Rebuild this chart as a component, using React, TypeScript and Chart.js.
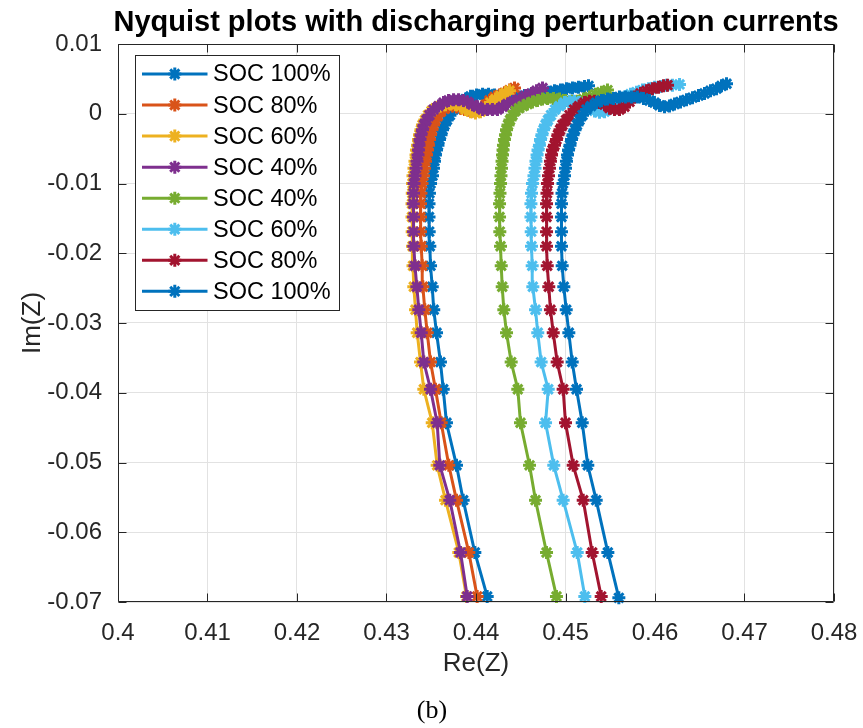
import React, { useEffect, useRef } from "react";
import { Chart, registerables } from "chart.js";

Chart.register(...registerables);

// ---------------- data ----------------
const seriesLabels = ["SOC 100%", "SOC 80%", "SOC 60%", "SOC 40%", "SOC 40%", "SOC 60%", "SOC 80%", "SOC 100%"];
const seriesColors = ["#0072BD", "#D95319", "#EDB120", "#7E2F8E", "#77AC30", "#4DBEEE", "#A2142F", "#0072BD"];

const xTickValues = [0.4, 0.41, 0.42, 0.43, 0.44, 0.45, 0.46, 0.47, 0.48];
const yTickValues = [0.01, 0, -0.01, -0.02, -0.03, -0.04, -0.05, -0.06, -0.07];

const chartTitle = "Nyquist plots with discharging perturbation currents";
const xAxisTitle = "Re(Z)";
const yAxisTitle = "Im(Z)";
const captionText = "(b)";

// SOC 100% (1st)
const soc100aRe = [0.44125, 0.43987, 0.43857, 0.43782, 0.43670, 0.43634, 0.43603, 0.43559, 0.43528, 0.43511, 0.43492, 0.43484, 0.43477,
  0.43475, 0.43475, 0.43480, 0.43492,
  0.43514, 0.43525, 0.43536, 0.43547, 0.43559, 0.43575, 0.43592, 0.43609, 0.43626, 0.43648, 0.43676, 0.43709,
  0.43749, 0.43793, 0.43838, 0.43883, 0.43939, 0.44006, 0.44073, 0.44140, 0.44207, 0.44274, 0.44341, 0.44408, 0.44475,
  0.44542, 0.44609, 0.44676, 0.44743, 0.44810, 0.44877, 0.44944, 0.45011, 0.45078, 0.45145, 0.45212, 0.45257];
const soc100aIm = [-0.0692, -0.0629, -0.0554, -0.0504, -0.0443, -0.0395, -0.0356, -0.0314, -0.0281, -0.0248, -0.0218, -0.0190, -0.0169,
  -0.0148, -0.0129, -0.0114, -0.0100,
  -0.0089, -0.0078, -0.0068, -0.0059, -0.0052, -0.0045, -0.0037, -0.0030, -0.0023, -0.0016, -0.0009, -0.0002,
  0.0006, 0.0011, 0.0017, 0.0021, 0.0025, 0.0027, 0.0028, 0.0028, 0.0027, 0.0026, 0.0024, 0.0024, 0.0024,
  0.0026, 0.0027, 0.0029, 0.0030, 0.0031, 0.0033, 0.0034, 0.0036, 0.0037, 0.0038, 0.0039, 0.0040];

// SOC 80% (1st)
const soc80aRe = [0.44013, 0.43920, 0.43782, 0.43696, 0.43611, 0.43547, 0.43492, 0.43455, 0.43428, 0.43406, 0.43399, 0.43388, 0.43380,
  0.43380, 0.43380, 0.43385, 0.43397,
  0.43413, 0.43425, 0.43436, 0.43447, 0.43458, 0.43469, 0.43480, 0.43492, 0.43508, 0.43525, 0.43547,
  0.43575, 0.43609, 0.43648, 0.43693, 0.43737, 0.43782, 0.43827, 0.43872, 0.43916, 0.43972, 0.44017, 0.44061,
  0.44106, 0.44151, 0.44207, 0.44263, 0.44318, 0.44374, 0.44430];
const soc80aIm = [-0.0692, -0.0629, -0.0554, -0.0504, -0.0443, -0.0395, -0.0356, -0.0314, -0.0281, -0.0248, -0.0218, -0.0190, -0.0169,
  -0.0148, -0.0129, -0.0114, -0.0100,
  -0.0089, -0.0078, -0.0068, -0.0059, -0.0052, -0.0045, -0.0037, -0.0030, -0.0023, -0.0016, -0.0009,
  -0.0003, 0.0003, 0.0007, 0.0010, 0.0011, 0.0010, 0.0008, 0.0006, 0.0005, 0.0004, 0.0005, 0.0008,
  0.0013, 0.0019, 0.0024, 0.0027, 0.0030, 0.0034, 0.0037];

// SOC 60% (1st)
const soc60aRe = [0.43894, 0.43808, 0.43659, 0.43566, 0.43511, 0.43417, 0.43380, 0.43343, 0.43324, 0.43305, 0.43296, 0.43291, 0.43287,
  0.43285, 0.43285, 0.43288, 0.43291,
  0.43296, 0.43307, 0.43318, 0.43330, 0.43335, 0.43346, 0.43358, 0.43369, 0.43385, 0.43402, 0.43430, 0.43464,
  0.43503, 0.43547, 0.43603, 0.43659, 0.43715, 0.43771, 0.43827, 0.43883, 0.43939, 0.43994, 0.44050, 0.44106,
  0.44162, 0.44218, 0.44274, 0.44330, 0.44374];
const soc60aIm = [-0.0692, -0.0629, -0.0554, -0.0504, -0.0443, -0.0395, -0.0356, -0.0314, -0.0281, -0.0248, -0.0218, -0.0190, -0.0169,
  -0.0148, -0.0129, -0.0114, -0.0100,
  -0.0089, -0.0078, -0.0068, -0.0059, -0.0052, -0.0045, -0.0037, -0.0030, -0.0023, -0.0016, -0.0009, -0.0002,
  0.0004, 0.0008, 0.0011, 0.0013, 0.0014, 0.0013, 0.0011, 0.0006, 0.0003, 0.0001, 0.0003, 0.0008,
  0.0016, 0.0021, 0.0026, 0.0030, 0.0033];

// SOC 40% (1st)
const soc40aRe = [0.43902, 0.43827, 0.43707, 0.43596, 0.43566, 0.43492, 0.43417, 0.43388, 0.43361, 0.43339, 0.43318, 0.43305, 0.43302,
  0.43302, 0.43299, 0.43302, 0.43307,
  0.43318, 0.43330, 0.43341, 0.43352, 0.43358, 0.43363, 0.43374, 0.43385, 0.43402, 0.43419, 0.43447, 0.43480,
  0.43525, 0.43581, 0.43637, 0.43693, 0.43749, 0.43805, 0.43860, 0.43905, 0.43961, 0.44017, 0.44073, 0.44128,
  0.44184, 0.44240, 0.44296, 0.44352, 0.44419, 0.44486, 0.44553, 0.44620, 0.44676, 0.44743];
const soc40aIm = [-0.0692, -0.0629, -0.0554, -0.0504, -0.0443, -0.0395, -0.0356, -0.0314, -0.0281, -0.0248, -0.0218, -0.0190, -0.0169,
  -0.0148, -0.0129, -0.0114, -0.0100,
  -0.0089, -0.0078, -0.0068, -0.0059, -0.0052, -0.0045, -0.0037, -0.0030, -0.0023, -0.0016, -0.0009, -0.0002,
  0.0006, 0.0011, 0.0016, 0.0019, 0.0020, 0.0020, 0.0019, 0.0017, 0.0013, 0.0010, 0.0006, 0.0006,
  0.0006, 0.0006, 0.0010, 0.0014, 0.0018, 0.0021, 0.0026, 0.0029, 0.0033, 0.0037];

// SOC 40% (2nd)
const soc40bRe = [0.44899, 0.44788, 0.44665, 0.44598, 0.44497, 0.44467, 0.44393, 0.44341, 0.44311, 0.44293, 0.44282, 0.44274, 0.44266,
  0.44263, 0.44263, 0.44268, 0.44274,
  0.44279, 0.44285, 0.44291, 0.44296, 0.44302, 0.44307, 0.44318, 0.44330, 0.44341, 0.44358, 0.44380, 0.44408,
  0.44441, 0.44480, 0.44525, 0.44575, 0.44631, 0.44687, 0.44743, 0.44799, 0.44866, 0.44933, 0.45000, 0.45067,
  0.45134, 0.45201, 0.45268, 0.45335, 0.45402, 0.45469];
const soc40bIm = [-0.0692, -0.0629, -0.0554, -0.0504, -0.0443, -0.0395, -0.0356, -0.0314, -0.0281, -0.0248, -0.0218, -0.0190, -0.0169,
  -0.0148, -0.0129, -0.0114, -0.0100,
  -0.0089, -0.0078, -0.0068, -0.0059, -0.0052, -0.0045, -0.0037, -0.0030, -0.0023, -0.0016, -0.0009, -0.0002,
  0.0004, 0.0008, 0.0011, 0.0014, 0.0017, 0.0019, 0.0021, 0.0022, 0.0022, 0.0021, 0.0019, 0.0018,
  0.0018, 0.0021, 0.0024, 0.0028, 0.0031, 0.0034];

// SOC 60% (2nd)
const soc60bRe = [0.45216, 0.45131, 0.44974, 0.44869, 0.44777, 0.44807, 0.44728, 0.44690, 0.44665, 0.44635, 0.44628, 0.44620, 0.44617,
  0.44614, 0.44614, 0.44620, 0.44631,
  0.44648, 0.44659, 0.44670, 0.44682, 0.44693, 0.44709, 0.44721, 0.44737, 0.44754, 0.44777, 0.44804, 0.44838,
  0.44883, 0.44933, 0.44989, 0.45045, 0.45101, 0.45156, 0.45212, 0.45268, 0.45324, 0.45380, 0.45436, 0.45492,
  0.45547, 0.45603, 0.45659, 0.45726, 0.45793, 0.45860, 0.45927, 0.45994, 0.46061, 0.46128, 0.46195, 0.46274];
const soc60bIm = [-0.0692, -0.0629, -0.0554, -0.0504, -0.0443, -0.0395, -0.0356, -0.0314, -0.0281, -0.0248, -0.0218, -0.0190, -0.0169,
  -0.0148, -0.0129, -0.0114, -0.0100,
  -0.0089, -0.0078, -0.0068, -0.0059, -0.0052, -0.0045, -0.0037, -0.0030, -0.0023, -0.0016, -0.0009, -0.0002,
  0.0006, 0.0011, 0.0016, 0.0018, 0.0018, 0.0016, 0.0013, 0.0008, 0.0004, 0.0002, 0.0003, 0.0007,
  0.0013, 0.0018, 0.0024, 0.0028, 0.0031, 0.0034, 0.0036, 0.0038, 0.0039, 0.0041, 0.0041, 0.0042];

// SOC 80% (2nd)
const soc80bRe = [0.45399, 0.45298, 0.45198, 0.45086, 0.45000, 0.44974, 0.44907, 0.44863, 0.44832, 0.44813, 0.44796, 0.44788, 0.44788,
  0.44788, 0.44788, 0.44793, 0.44799,
  0.44810, 0.44821, 0.44832, 0.44844, 0.44855, 0.44877, 0.44899, 0.44916, 0.44939, 0.44966, 0.45006, 0.45045,
  0.45095, 0.45151, 0.45212, 0.45268, 0.45324, 0.45380, 0.45436, 0.45492, 0.45547, 0.45603, 0.45659, 0.45715,
  0.45771, 0.45838, 0.45905, 0.45972, 0.46039, 0.46095, 0.46140];
const soc80bIm = [-0.0692, -0.0629, -0.0554, -0.0504, -0.0443, -0.0395, -0.0356, -0.0314, -0.0281, -0.0248, -0.0218, -0.0190, -0.0169,
  -0.0148, -0.0129, -0.0114, -0.0100,
  -0.0089, -0.0078, -0.0068, -0.0059, -0.0052, -0.0045, -0.0037, -0.0030, -0.0023, -0.0016, -0.0009, -0.0002,
  0.0006, 0.0011, 0.0016, 0.0018, 0.0018, 0.0016, 0.0013, 0.0008, 0.0006, 0.0006, 0.0010, 0.0017,
  0.0024, 0.0029, 0.0033, 0.0036, 0.0038, 0.0040, 0.0041];

// SOC 100% (2nd)
const soc100bRe = [0.45596, 0.45473, 0.45343, 0.45249, 0.45187, 0.45123, 0.45075, 0.45037, 0.45008, 0.44981, 0.44963, 0.44955, 0.44955,
  0.44955, 0.44955, 0.44961, 0.44972,
  0.44989, 0.45000, 0.45011, 0.45022, 0.45034, 0.45050, 0.45067, 0.45084, 0.45106, 0.45128, 0.45156, 0.45190,
  0.45235, 0.45285, 0.45346, 0.45402, 0.45469, 0.45536, 0.45603, 0.45670, 0.45737, 0.45804, 0.45871, 0.45939,
  0.45994, 0.46050, 0.46106, 0.46162, 0.46218, 0.46285, 0.46352, 0.46419, 0.46486, 0.46553, 0.46620, 0.46687,
  0.46743, 0.46799];
const soc100bIm = [-0.0694, -0.0629, -0.0554, -0.0504, -0.0443, -0.0395, -0.0356, -0.0314, -0.0281, -0.0248, -0.0218, -0.0190, -0.0169,
  -0.0148, -0.0129, -0.0114, -0.0100,
  -0.0089, -0.0078, -0.0068, -0.0059, -0.0052, -0.0045, -0.0037, -0.0030, -0.0023, -0.0016, -0.0009, -0.0002,
  0.0006, 0.0011, 0.0016, 0.0019, 0.0021, 0.0022, 0.0024, 0.0024, 0.0024, 0.0024, 0.0022, 0.0019,
  0.0016, 0.0012, 0.0010, 0.0011, 0.0014, 0.0017, 0.0020, 0.0023, 0.0026, 0.0029, 0.0033, 0.0036,
  0.0040, 0.0043];

const seriesRe = [soc100aRe, soc80aRe, soc60aRe, soc40aRe, soc40bRe, soc60bRe, soc80bRe, soc100bRe];
const seriesIm = [soc100aIm, soc80aIm, soc60aIm, soc40aIm, soc40bIm, soc60bIm, soc80bIm, soc100bIm];

// ---------------- style ----------------
const SANS = "'Liberation Sans', Arial, Helvetica, sans-serif";
const AXIS_COLOR = "#262626";
const GRID_COLOR = "#e2e2e2";
const TICK_FONT = 24;
const LABEL_FONT = 26;
const TITLE_FONT = 29;
const LEGEND_FONT = 23.5;
const MARKER_R = 6.5;
const MARKER_W = 3;

function fmt(v: number) {
  return String(parseFloat(Number(v).toFixed(2)));
}

function drawStar(ctx: CanvasRenderingContext2D, x: number, y: number, r: number) {
  const d = r * Math.SQRT1_2;
  ctx.beginPath();
  ctx.moveTo(x - r, y); ctx.lineTo(x + r, y);
  ctx.moveTo(x, y - r); ctx.lineTo(x, y + r);
  ctx.moveTo(x - d, y - d); ctx.lineTo(x + d, y + d);
  ctx.moveTo(x - d, y + d); ctx.lineTo(x + d, y - d);
  ctx.stroke();
}

const framePlugin = {
  id: "matlabFrame",
  afterDatasetsDraw(chart: any) {
    const { ctx, chartArea: a, scales } = chart;
    const L = Math.round(a.left) + 0.5, R = Math.round(a.right) - 0.5;
    const T = Math.round(a.top) + 0.5, B = Math.round(a.bottom) - 0.5;
    ctx.save();
    ctx.strokeStyle = AXIS_COLOR;
    ctx.lineWidth = 1;
    ctx.beginPath();
    ctx.moveTo(L, T); ctx.lineTo(R, T); ctx.lineTo(R, B); ctx.lineTo(L, B); ctx.closePath();
    const tl = 8;
    xTickValues.forEach((v) => {
      const x = Math.round(scales.x.getPixelForValue(v)) + 0.5;
      ctx.moveTo(x, B); ctx.lineTo(x, B - tl);
      ctx.moveTo(x, T); ctx.lineTo(x, T + tl);
    });
    yTickValues.forEach((v) => {
      const y = Math.round(scales.y.getPixelForValue(v)) + 0.5;
      ctx.moveTo(L, y); ctx.lineTo(L + tl, y);
      ctx.moveTo(R, y); ctx.lineTo(R - tl, y);
    });
    ctx.stroke();
    ctx.restore();
  },
  afterDraw(chart: any) {
    const { ctx, chartArea: a } = chart;
    ctx.save();
    // title
    ctx.fillStyle = "#000";
    ctx.textAlign = "center";
    ctx.textBaseline = "middle";
    ctx.font = `bold ${TITLE_FONT}px ${SANS}`;
    ctx.fillText(chartTitle, (a.left + a.right) / 2, a.top - 21);
    // axis titles
    ctx.fillStyle = AXIS_COLOR;
    ctx.font = `${LABEL_FONT}px ${SANS}`;
    ctx.fillText(xAxisTitle, (a.left + a.right) / 2, a.bottom + 62);
    ctx.save();
    ctx.translate(a.left - 85, (a.top + a.bottom) / 2);
    ctx.rotate(-Math.PI / 2);
    ctx.fillText(yAxisTitle, 0, 0);
    ctx.restore();
    // caption
    ctx.fillStyle = "#000";
    ctx.font = `26px 'Liberation Serif', 'DejaVu Serif', serif`;
    ctx.fillText(captionText, (a.left + a.right) / 2 - 44, a.bottom + 109);

    // legend
    const bx = a.left + 17.5, by = a.top + 11.5, bw = 204, bh = 255;
    ctx.fillStyle = "#fff";
    ctx.fillRect(bx, by, bw, bh);
    ctx.strokeStyle = AXIS_COLOR;
    ctx.lineWidth = 1;
    ctx.strokeRect(bx, by, bw, bh);
    ctx.textAlign = "left";
    ctx.textBaseline = "middle";
    ctx.font = `${LEGEND_FONT}px ${SANS}`;
    seriesLabels.forEach((lab, i) => {
      const y = by + 18.5 + i * 31.05;
      ctx.strokeStyle = seriesColors[i];
      ctx.lineWidth = 3;
      ctx.beginPath();
      ctx.moveTo(bx + 6.5, y); ctx.lineTo(bx + 72, y);
      ctx.stroke();
      ctx.lineWidth = MARKER_W;
      drawStar(ctx, bx + 39.3, y, MARKER_R);
      ctx.fillStyle = "#000";
      ctx.fillText(lab, bx + 77.5, y + 1);
    });
    ctx.restore();
  },
};

export default function App() {
  const canvasRef = useRef<HTMLCanvasElement | null>(null);

  useEffect(() => {
    if (!canvasRef.current) return;
    const n = seriesLabels.length;
    const datasets = seriesLabels.map((label, i) => ({
      label,
      data: seriesRe[i].map((x, k) => ({ x, y: seriesIm[i][k] })).filter((p) => p.y !== undefined),
      showLine: true,
      borderColor: seriesColors[i],
      backgroundColor: seriesColors[i],
      borderWidth: 3,
      pointStyle: "star" as const,
      pointRadius: MARKER_R,
      pointBorderWidth: MARKER_W,
      pointBorderColor: seriesColors[i],
      pointBackgroundColor: seriesColors[i],
      pointHoverRadius: MARKER_R,
      tension: 0,
      clip: false as any,
      order: n - 1 - i,
    }));

    const chart = new Chart(canvasRef.current, {
      type: "scatter",
      data: { datasets },
      options: {
        animation: false,
        responsive: true,
        maintainAspectRatio: false,
        events: [],
        layout: { padding: { top: 44, right: 29, left: 0, bottom: 0 } },
        plugins: {
          legend: { display: false },
          title: { display: false },
          tooltip: { enabled: false },
        },
        scales: {
          x: {
            type: "linear",
            min: 0.4,
            max: 0.48,
            afterBuildTicks: (scale: any) => {
              scale.ticks = xTickValues.map((v) => ({ value: v }));
            },
            afterFit: (scale: any) => {
              scale.height = 126;
              scale.paddingLeft = 0;
              scale.paddingRight = 0;
            },
            ticks: {
              callback: (v: any) => fmt(v),
              color: AXIS_COLOR,
              font: { family: SANS, size: TICK_FONT },
              padding: 17,
              maxRotation: 0,
              autoSkip: false,
            },
            grid: { color: GRID_COLOR, lineWidth: 1, drawTicks: false },
            border: { display: false },
          },
          y: {
            type: "linear",
            min: -0.07,
            max: 0.01,
            afterBuildTicks: (scale: any) => {
              scale.ticks = yTickValues.map((v) => ({ value: v }));
            },
            afterFit: (scale: any) => {
              scale.width = 118;
              scale.paddingTop = 0;
              scale.paddingBottom = 0;
            },
            ticks: {
              callback: (v: any) => fmt(v),
              color: AXIS_COLOR,
              font: { family: SANS, size: TICK_FONT },
              padding: 16,
              autoSkip: false,
            },
            grid: { color: GRID_COLOR, lineWidth: 1, drawTicks: false },
            border: { display: false },
          },
        },
      },
      plugins: [framePlugin],
    });
    return () => chart.destroy();
  }, []);

  return (
    <div style={{ position: "absolute", left: 0, top: 0, width: 863, height: 728, background: "#fff" }}>
      <canvas ref={canvasRef} />
    </div>
  );
}
